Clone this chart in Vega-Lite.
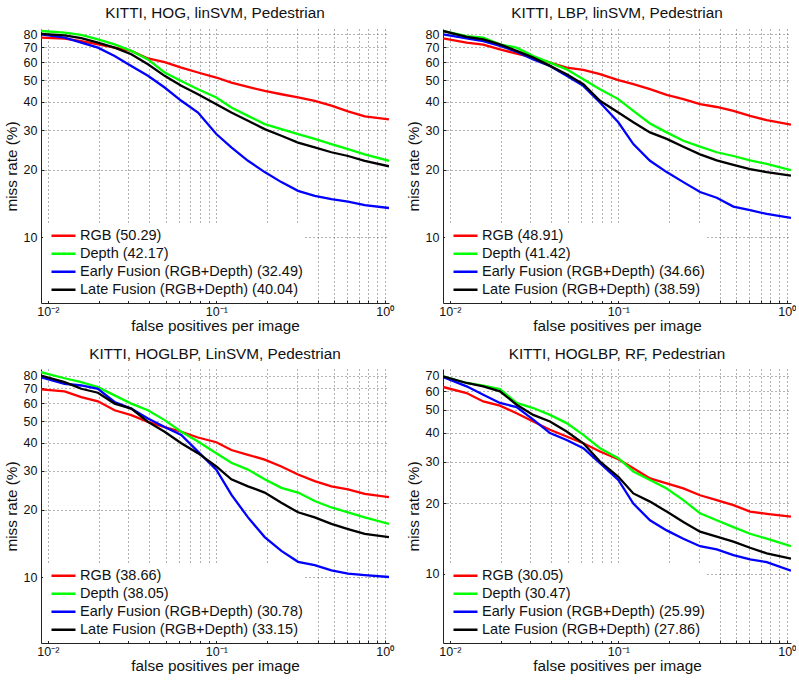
{
"$schema": "https://vega.github.io/schema/vega-lite/v6.json",
"background": "white",
"padding": {"left": 4, "top": 6, "right": 0, "bottom": 0},
"config": {
  "font": "Liberation Sans",
  "view": {"stroke": null},
  "axis": {"domainColor": "#222", "domainWidth": 1, "gridColor": "#555", "gridDash": [1, 3], "gridWidth": 1, "gridOpacity": 0.9, "labelColor": "#111", "labelFontSize": 12.5, "titleFontSize": 15.3, "titleFontWeight": "normal", "titleColor": "#111", "tickColor": "#222", "tickSize": -3, "labelFlush": false, "labelOverlap": false},
  "axisX": {"labelPadding": 5, "titlePadding": 1},
  "axisY": {"labelPadding": 7, "titlePadding": 4},
  "title": {"fontSize": 15.3, "fontWeight": "normal", "color": "#111", "offset": 7},
  "legend": {"orient": "bottom-left", "offset": 2, "title": null, "symbolType": "stroke", "symbolSize": 576, "symbolStrokeWidth": 2.6, "symbolOffset": 5, "labelFontSize": 14.5, "labelColor": "#111", "labelLimit": 0, "clipHeight": 17.6, "fillColor": "white", "padding": 2, "rowPadding": 0, "labelOffset": 3}
},
"datasets": {
"p1": [
{"series":"RGB","fppi":0.0091,"missrate":77.3},{"series":"RGB","fppi":0.01256,"missrate":76.5},{"series":"RGB","fppi":0.01578,"missrate":74.7},{"series":"RGB","fppi":0.01982,"missrate":72.2},{"series":"RGB","fppi":0.02489,"missrate":69.8},{"series":"RGB","fppi":0.03126,"missrate":67.5},{"series":"RGB","fppi":0.03927,"missrate":62.5},{"series":"RGB","fppi":0.04933,"missrate":60.2},{"series":"RGB","fppi":0.06196,"missrate":56.9},{"series":"RGB","fppi":0.07782,"missrate":54.1},{"series":"RGB","fppi":0.1,"missrate":51.4},{"series":"RGB","fppi":0.1228,"missrate":48.8},{"series":"RGB","fppi":0.1542,"missrate":46.7},{"series":"RGB","fppi":0.1937,"missrate":44.8},{"series":"RGB","fppi":0.2433,"missrate":43.3},{"series":"RGB","fppi":0.3056,"missrate":41.9},{"series":"RGB","fppi":0.3839,"missrate":40.5},{"series":"RGB","fppi":0.4822,"missrate":38.5},{"series":"RGB","fppi":0.6056,"missrate":36.3},{"series":"RGB","fppi":0.7607,"missrate":34.5},{"series":"RGB","fppi":1.06,"missrate":33.5},
{"series":"Depth","fppi":0.0091,"missrate":82.8},{"series":"Depth","fppi":0.01256,"missrate":81.4},{"series":"Depth","fppi":0.01578,"missrate":79.5},{"series":"Depth","fppi":0.01982,"missrate":76.0},{"series":"Depth","fppi":0.02489,"missrate":72.2},{"series":"Depth","fppi":0.03126,"missrate":67.5},{"series":"Depth","fppi":0.03927,"missrate":61.9},{"series":"Depth","fppi":0.04933,"missrate":54.1},{"series":"Depth","fppi":0.06196,"missrate":49.6},{"series":"Depth","fppi":0.07782,"missrate":45.6},{"series":"Depth","fppi":0.1,"missrate":41.9},{"series":"Depth","fppi":0.1228,"missrate":37.8},{"series":"Depth","fppi":0.1542,"missrate":34.7},{"series":"Depth","fppi":0.1937,"missrate":31.9},{"series":"Depth","fppi":0.2433,"missrate":30.3},{"series":"Depth","fppi":0.3056,"missrate":28.8},{"series":"Depth","fppi":0.3839,"missrate":27.4},{"series":"Depth","fppi":0.4822,"missrate":26.0},{"series":"Depth","fppi":0.6056,"missrate":24.7},{"series":"Depth","fppi":0.7607,"missrate":23.4},{"series":"Depth","fppi":1.06,"missrate":21.9},
{"series":"Early","fppi":0.0091,"missrate":80.0},{"series":"Early","fppi":0.01256,"missrate":77.3},{"series":"Early","fppi":0.01578,"missrate":73.5},{"series":"Early","fppi":0.01982,"missrate":69.8},{"series":"Early","fppi":0.02489,"missrate":64.1},{"series":"Early","fppi":0.03126,"missrate":57.9},{"series":"Early","fppi":0.03927,"missrate":52.3},{"series":"Early","fppi":0.04933,"missrate":46.4},{"series":"Early","fppi":0.06196,"missrate":40.5},{"series":"Early","fppi":0.07782,"missrate":35.9},{"series":"Early","fppi":0.1,"missrate":28.8},{"series":"Early","fppi":0.1228,"missrate":25.1},{"series":"Early","fppi":0.1542,"missrate":21.9},{"series":"Early","fppi":0.1937,"missrate":19.5},{"series":"Early","fppi":0.2433,"missrate":17.6},{"series":"Early","fppi":0.3056,"missrate":16.1},{"series":"Early","fppi":0.3839,"missrate":15.3},{"series":"Early","fppi":0.4822,"missrate":14.8},{"series":"Early","fppi":0.6056,"missrate":14.4},{"series":"Early","fppi":0.7607,"missrate":13.9},{"series":"Early","fppi":1.06,"missrate":13.5},
{"series":"Late","fppi":0.0091,"missrate":80.4},{"series":"Late","fppi":0.01256,"missrate":79.2},{"series":"Late","fppi":0.01578,"missrate":77.0},{"series":"Late","fppi":0.01982,"missrate":73.5},{"series":"Late","fppi":0.02489,"missrate":69.8},{"series":"Late","fppi":0.03126,"missrate":65.2},{"series":"Late","fppi":0.03927,"missrate":58.9},{"series":"Late","fppi":0.04933,"missrate":52.3},{"series":"Late","fppi":0.06196,"missrate":47.2},{"series":"Late","fppi":0.07782,"missrate":43.3},{"series":"Late","fppi":0.1,"missrate":39.1},{"series":"Late","fppi":0.1228,"missrate":35.9},{"series":"Late","fppi":0.1542,"missrate":33.0},{"series":"Late","fppi":0.1937,"missrate":30.3},{"series":"Late","fppi":0.2433,"missrate":28.3},{"series":"Late","fppi":0.3056,"missrate":26.4},{"series":"Late","fppi":0.3839,"missrate":25.1},{"series":"Late","fppi":0.4822,"missrate":23.9},{"series":"Late","fppi":0.6056,"missrate":23.0},{"series":"Late","fppi":0.7607,"missrate":21.9},{"series":"Late","fppi":1.06,"missrate":20.7}
],
"p2": [
{"series":"RGB","fppi":0.0091,"missrate":76.8},{"series":"RGB","fppi":0.01256,"missrate":73.5},{"series":"RGB","fppi":0.01578,"missrate":72.0},{"series":"RGB","fppi":0.01982,"missrate":68.6},{"series":"RGB","fppi":0.02489,"missrate":65.6},{"series":"RGB","fppi":0.03126,"missrate":63.0},{"series":"RGB","fppi":0.03927,"missrate":59.9},{"series":"RGB","fppi":0.04933,"missrate":56.9},{"series":"RGB","fppi":0.06196,"missrate":55.6},{"series":"RGB","fppi":0.07782,"missrate":53.2},{"series":"RGB","fppi":0.1,"missrate":50.0},{"series":"RGB","fppi":0.1228,"missrate":48.0},{"series":"RGB","fppi":0.1542,"missrate":45.6},{"series":"RGB","fppi":0.1937,"missrate":43.0},{"series":"RGB","fppi":0.2433,"missrate":41.2},{"series":"RGB","fppi":0.3056,"missrate":39.1},{"series":"RGB","fppi":0.3839,"missrate":38.0},{"series":"RGB","fppi":0.4822,"missrate":36.5},{"series":"RGB","fppi":0.6056,"missrate":34.7},{"series":"RGB","fppi":0.7607,"missrate":33.2},{"series":"RGB","fppi":1.06,"missrate":31.7},
{"series":"Depth","fppi":0.0091,"missrate":82.8},{"series":"Depth","fppi":0.01256,"missrate":78.6},{"series":"Depth","fppi":0.01578,"missrate":77.3},{"series":"Depth","fppi":0.01982,"missrate":72.2},{"series":"Depth","fppi":0.02489,"missrate":69.8},{"series":"Depth","fppi":0.03126,"missrate":64.1},{"series":"Depth","fppi":0.03927,"missrate":59.9},{"series":"Depth","fppi":0.04933,"missrate":55.9},{"series":"Depth","fppi":0.06196,"missrate":50.5},{"series":"Depth","fppi":0.07782,"missrate":45.6},{"series":"Depth","fppi":0.1,"missrate":41.2},{"series":"Depth","fppi":0.1228,"missrate":36.5},{"series":"Depth","fppi":0.1542,"missrate":32.1},{"series":"Depth","fppi":0.1937,"missrate":29.3},{"series":"Depth","fppi":0.2433,"missrate":26.9},{"series":"Depth","fppi":0.3056,"missrate":25.3},{"series":"Depth","fppi":0.3839,"missrate":23.9},{"series":"Depth","fppi":0.4822,"missrate":23.0},{"series":"Depth","fppi":0.6056,"missrate":22.0},{"series":"Depth","fppi":0.7607,"missrate":21.2},{"series":"Depth","fppi":1.06,"missrate":19.9},
{"series":"Early","fppi":0.0091,"missrate":80.0},{"series":"Early","fppi":0.01256,"missrate":76.8},{"series":"Early","fppi":0.01578,"missrate":74.7},{"series":"Early","fppi":0.01982,"missrate":71.0},{"series":"Early","fppi":0.02489,"missrate":67.0},{"series":"Early","fppi":0.03126,"missrate":61.9},{"series":"Early","fppi":0.03927,"missrate":57.9},{"series":"Early","fppi":0.04933,"missrate":52.3},{"series":"Early","fppi":0.06196,"missrate":47.2},{"series":"Early","fppi":0.07782,"missrate":39.8},{"series":"Early","fppi":0.1,"missrate":32.5},{"series":"Early","fppi":0.1228,"missrate":26.0},{"series":"Early","fppi":0.1542,"missrate":21.9},{"series":"Early","fppi":0.1937,"missrate":19.5},{"series":"Early","fppi":0.2433,"missrate":17.6},{"series":"Early","fppi":0.3056,"missrate":15.9},{"series":"Early","fppi":0.3839,"missrate":15.0},{"series":"Early","fppi":0.4822,"missrate":13.7},{"series":"Early","fppi":0.6056,"missrate":13.2},{"series":"Early","fppi":0.7607,"missrate":12.7},{"series":"Early","fppi":1.06,"missrate":12.2},
{"series":"Late","fppi":0.0091,"missrate":82.8},{"series":"Late","fppi":0.01256,"missrate":78.0},{"series":"Late","fppi":0.01578,"missrate":76.0},{"series":"Late","fppi":0.01982,"missrate":72.2},{"series":"Late","fppi":0.02489,"missrate":67.5},{"series":"Late","fppi":0.03126,"missrate":63.0},{"series":"Late","fppi":0.03927,"missrate":57.9},{"series":"Late","fppi":0.04933,"missrate":53.2},{"series":"Late","fppi":0.06196,"missrate":48.0},{"series":"Late","fppi":0.07782,"missrate":40.5},{"series":"Late","fppi":0.1,"missrate":35.9},{"series":"Late","fppi":0.1228,"missrate":32.5},{"series":"Late","fppi":0.1542,"missrate":29.3},{"series":"Late","fppi":0.1937,"missrate":27.4},{"series":"Late","fppi":0.2433,"missrate":25.3},{"series":"Late","fppi":0.3056,"missrate":23.4},{"series":"Late","fppi":0.3839,"missrate":22.0},{"series":"Late","fppi":0.4822,"missrate":21.0},{"series":"Late","fppi":0.6056,"missrate":20.1},{"series":"Late","fppi":0.7607,"missrate":19.5},{"series":"Late","fppi":1.06,"missrate":18.8}
],
"p3": [
{"series":"RGB","fppi":0.0091,"missrate":69.3},{"series":"RGB","fppi":0.01256,"missrate":68.0},{"series":"RGB","fppi":0.01578,"missrate":64.0},{"series":"RGB","fppi":0.01982,"missrate":61.3},{"series":"RGB","fppi":0.02489,"missrate":55.9},{"series":"RGB","fppi":0.03126,"missrate":53.2},{"series":"RGB","fppi":0.03927,"missrate":49.6},{"series":"RGB","fppi":0.04933,"missrate":47.0},{"series":"RGB","fppi":0.06196,"missrate":44.8},{"series":"RGB","fppi":0.07782,"missrate":42.2},{"series":"RGB","fppi":0.1,"missrate":40.2},{"series":"RGB","fppi":0.1228,"missrate":37.1},{"series":"RGB","fppi":0.1542,"missrate":35.3},{"series":"RGB","fppi":0.1937,"missrate":33.6},{"series":"RGB","fppi":0.2433,"missrate":31.3},{"series":"RGB","fppi":0.3056,"missrate":28.8},{"series":"RGB","fppi":0.3839,"missrate":26.9},{"series":"RGB","fppi":0.4822,"missrate":25.5},{"series":"RGB","fppi":0.6056,"missrate":24.7},{"series":"RGB","fppi":0.7607,"missrate":23.6},{"series":"RGB","fppi":1.06,"missrate":22.8},
{"series":"Depth","fppi":0.0091,"missrate":82.8},{"series":"Depth","fppi":0.01256,"missrate":77.8},{"series":"Depth","fppi":0.01578,"missrate":74.7},{"series":"Depth","fppi":0.01982,"missrate":71.0},{"series":"Depth","fppi":0.02489,"missrate":65.2},{"series":"Depth","fppi":0.03126,"missrate":59.9},{"series":"Depth","fppi":0.03927,"missrate":55.9},{"series":"Depth","fppi":0.04933,"missrate":50.5},{"series":"Depth","fppi":0.06196,"missrate":44.8},{"series":"Depth","fppi":0.07782,"missrate":40.5},{"series":"Depth","fppi":0.1,"missrate":35.9},{"series":"Depth","fppi":0.1228,"missrate":32.5},{"series":"Depth","fppi":0.1542,"missrate":30.3},{"series":"Depth","fppi":0.1937,"missrate":27.4},{"series":"Depth","fppi":0.2433,"missrate":25.1},{"series":"Depth","fppi":0.3056,"missrate":23.9},{"series":"Depth","fppi":0.3839,"missrate":21.9},{"series":"Depth","fppi":0.4822,"missrate":20.5},{"series":"Depth","fppi":0.6056,"missrate":19.5},{"series":"Depth","fppi":0.7607,"missrate":18.5},{"series":"Depth","fppi":1.06,"missrate":17.3},
{"series":"Early","fppi":0.0091,"missrate":78.6},{"series":"Early","fppi":0.01256,"missrate":73.5},{"series":"Early","fppi":0.01578,"missrate":72.2},{"series":"Early","fppi":0.01982,"missrate":69.8},{"series":"Early","fppi":0.02489,"missrate":60.9},{"series":"Early","fppi":0.03126,"missrate":56.9},{"series":"Early","fppi":0.03927,"missrate":51.4},{"series":"Early","fppi":0.04933,"missrate":47.0},{"series":"Early","fppi":0.06196,"missrate":43.3},{"series":"Early","fppi":0.07782,"missrate":36.5},{"series":"Early","fppi":0.1,"missrate":30.3},{"series":"Early","fppi":0.1228,"missrate":23.4},{"series":"Early","fppi":0.1542,"missrate":18.5},{"series":"Early","fppi":0.1937,"missrate":15.1},{"series":"Early","fppi":0.2433,"missrate":13.1},{"series":"Early","fppi":0.3056,"missrate":11.7},{"series":"Early","fppi":0.3839,"missrate":11.3},{"series":"Early","fppi":0.4822,"missrate":10.7},{"series":"Early","fppi":0.6056,"missrate":10.35},{"series":"Early","fppi":0.7607,"missrate":10.2},{"series":"Early","fppi":1.06,"missrate":10.0},
{"series":"Late","fppi":0.0091,"missrate":80.0},{"series":"Late","fppi":0.01256,"missrate":74.7},{"series":"Late","fppi":0.01578,"missrate":69.8},{"series":"Late","fppi":0.01982,"missrate":67.0},{"series":"Late","fppi":0.02489,"missrate":59.9},{"series":"Late","fppi":0.03126,"missrate":56.9},{"series":"Late","fppi":0.03927,"missrate":49.6},{"series":"Late","fppi":0.04933,"missrate":44.8},{"series":"Late","fppi":0.06196,"missrate":39.8},{"series":"Late","fppi":0.07782,"missrate":35.9},{"series":"Late","fppi":0.1,"missrate":31.3},{"series":"Late","fppi":0.1228,"missrate":27.4},{"series":"Late","fppi":0.1542,"missrate":25.5},{"series":"Late","fppi":0.1937,"missrate":23.9},{"series":"Late","fppi":0.2433,"missrate":21.5},{"series":"Late","fppi":0.3056,"missrate":19.5},{"series":"Late","fppi":0.3839,"missrate":18.5},{"series":"Late","fppi":0.4822,"missrate":17.3},{"series":"Late","fppi":0.6056,"missrate":16.4},{"series":"Late","fppi":0.7607,"missrate":15.6},{"series":"Late","fppi":1.06,"missrate":15.1}
],
"p4": [
{"series":"RGB","fppi":0.0091,"missrate":62.6},{"series":"RGB","fppi":0.01256,"missrate":59.0},{"series":"RGB","fppi":0.01578,"missrate":54.3},{"series":"RGB","fppi":0.01982,"missrate":52.1},{"series":"RGB","fppi":0.02489,"missrate":48.4},{"series":"RGB","fppi":0.03126,"missrate":44.6},{"series":"RGB","fppi":0.03927,"missrate":41.1},{"series":"RGB","fppi":0.04933,"missrate":38.5},{"series":"RGB","fppi":0.06196,"missrate":36.0},{"series":"RGB","fppi":0.07782,"missrate":33.2},{"series":"RGB","fppi":0.1,"missrate":30.8},{"series":"RGB","fppi":0.1228,"missrate":28.2},{"series":"RGB","fppi":0.1542,"missrate":25.5},{"series":"RGB","fppi":0.1937,"missrate":24.3},{"series":"RGB","fppi":0.2433,"missrate":23.1},{"series":"RGB","fppi":0.3056,"missrate":21.6},{"series":"RGB","fppi":0.3839,"missrate":20.6},{"series":"RGB","fppi":0.4822,"missrate":19.6},{"series":"RGB","fppi":0.6056,"missrate":18.4},{"series":"RGB","fppi":0.7607,"missrate":18.0},{"series":"RGB","fppi":1.06,"missrate":17.5},
{"series":"Depth","fppi":0.0091,"missrate":69.5},{"series":"Depth","fppi":0.01256,"missrate":65.1},{"series":"Depth","fppi":0.01578,"missrate":63.4},{"series":"Depth","fppi":0.01982,"missrate":61.4},{"series":"Depth","fppi":0.02489,"missrate":53.5},{"series":"Depth","fppi":0.03126,"missrate":50.9},{"series":"Depth","fppi":0.03927,"missrate":47.6},{"series":"Depth","fppi":0.04933,"missrate":43.9},{"series":"Depth","fppi":0.06196,"missrate":39.1},{"series":"Depth","fppi":0.07782,"missrate":34.3},{"series":"Depth","fppi":0.1,"missrate":31.1},{"series":"Depth","fppi":0.1228,"missrate":27.3},{"series":"Depth","fppi":0.1542,"missrate":25.1},{"series":"Depth","fppi":0.1937,"missrate":23.1},{"series":"Depth","fppi":0.2433,"missrate":20.6},{"series":"Depth","fppi":0.3056,"missrate":18.1},{"series":"Depth","fppi":0.3839,"missrate":16.9},{"series":"Depth","fppi":0.4822,"missrate":15.8},{"series":"Depth","fppi":0.6056,"missrate":14.8},{"series":"Depth","fppi":0.7607,"missrate":14.1},{"series":"Depth","fppi":1.06,"missrate":13.1},
{"series":"Early","fppi":0.0091,"missrate":69.1},{"series":"Early","fppi":0.01256,"missrate":63.0},{"series":"Early","fppi":0.01578,"missrate":58.0},{"series":"Early","fppi":0.01982,"missrate":53.5},{"series":"Early","fppi":0.02489,"missrate":51.4},{"series":"Early","fppi":0.03126,"missrate":45.4},{"series":"Early","fppi":0.03927,"missrate":39.8},{"series":"Early","fppi":0.04933,"missrate":37.2},{"series":"Early","fppi":0.06196,"missrate":34.3},{"series":"Early","fppi":0.07782,"missrate":29.6},{"series":"Early","fppi":0.1,"missrate":25.1},{"series":"Early","fppi":0.1228,"missrate":19.9},{"series":"Early","fppi":0.1542,"missrate":16.9},{"series":"Early","fppi":0.1937,"missrate":15.3},{"series":"Early","fppi":0.2433,"missrate":14.1},{"series":"Early","fppi":0.3056,"missrate":13.1},{"series":"Early","fppi":0.3839,"missrate":12.7},{"series":"Early","fppi":0.4822,"missrate":12.0},{"series":"Early","fppi":0.6056,"missrate":11.5},{"series":"Early","fppi":0.7607,"missrate":11.2},{"series":"Early","fppi":1.06,"missrate":10.3},
{"series":"Late","fppi":0.0091,"missrate":69.5},{"series":"Late","fppi":0.01256,"missrate":65.1},{"series":"Late","fppi":0.01578,"missrate":63.0},{"series":"Late","fppi":0.01982,"missrate":60.0},{"series":"Late","fppi":0.02489,"missrate":52.6},{"series":"Late","fppi":0.03126,"missrate":47.6},{"series":"Late","fppi":0.03927,"missrate":44.6},{"series":"Late","fppi":0.04933,"missrate":40.4},{"series":"Late","fppi":0.06196,"missrate":36.0},{"series":"Late","fppi":0.07782,"missrate":30.1},{"series":"Late","fppi":0.1,"missrate":25.9},{"series":"Late","fppi":0.1228,"missrate":22.0},{"series":"Late","fppi":0.1542,"missrate":20.3},{"series":"Late","fppi":0.1937,"missrate":18.4},{"series":"Late","fppi":0.2433,"missrate":16.6},{"series":"Late","fppi":0.3056,"missrate":15.1},{"series":"Late","fppi":0.3839,"missrate":14.4},{"series":"Late","fppi":0.4822,"missrate":13.7},{"series":"Late","fppi":0.6056,"missrate":12.9},{"series":"Late","fppi":0.7607,"missrate":12.2},{"series":"Late","fppi":1.06,"missrate":11.6}
]
},
"spacing": 12,
"resolve": {"scale": {"color": "independent"}, "legend": {"color": "independent"}},
"vconcat": [
{"hconcat": [
{"title": "KITTI, HOG, linSVM, Pedestrian", "width": 348, "height": 274, "data": {"name": "p1"},
 "mark": {"type": "line", "strokeWidth": 2.3, "clip": true},
 "encoding": {
  "x": {"field": "fppi", "type": "quantitative", "scale": {"type": "log", "domain": [0.0091, 1.06], "nice": false}, "axis": {"title": "false positives per image", "values": [0.01,0.02,0.03,0.04,0.05,0.06,0.07,0.08,0.09,0.1,0.2,0.3,0.4,0.5,0.6,0.7,0.8,0.9,1], "labelExpr": "datum.value == 0.01 ? '10⁻²' : datum.value == 0.1 ? '10⁻¹' : datum.value == 1 ? '10⁰' : ''"}},
  "y": {"field": "missrate", "type": "quantitative", "scale": {"type": "log", "domain": [5.1, 84.5], "nice": false}, "axis": {"title": "miss rate (%)", "values": [10,20,30,40,50,60,70,80], "format": "d"}},
  "color": {"field": "series", "type": "nominal", "scale": {"domain": ["RGB","Depth","Early","Late"], "range": ["#ff0000","#00ff00","#0000ff","#000000"]}, "legend": {"labelExpr": "datum.label == 'RGB' ? 'RGB (50.29)' : datum.label == 'Depth' ? 'Depth (42.17)' : datum.label == 'Early' ? 'Early Fusion (RGB+Depth) (32.49)' : 'Late Fusion (RGB+Depth) (40.04)'"}}
 }},
{"title": "KITTI, LBP, linSVM, Pedestrian", "width": 348, "height": 274, "data": {"name": "p2"},
 "mark": {"type": "line", "strokeWidth": 2.3, "clip": true},
 "encoding": {
  "x": {"field": "fppi", "type": "quantitative", "scale": {"type": "log", "domain": [0.0091, 1.06], "nice": false}, "axis": {"title": "false positives per image", "values": [0.01,0.02,0.03,0.04,0.05,0.06,0.07,0.08,0.09,0.1,0.2,0.3,0.4,0.5,0.6,0.7,0.8,0.9,1], "labelExpr": "datum.value == 0.01 ? '10⁻²' : datum.value == 0.1 ? '10⁻¹' : datum.value == 1 ? '10⁰' : ''"}},
  "y": {"field": "missrate", "type": "quantitative", "scale": {"type": "log", "domain": [5.1, 84.5], "nice": false}, "axis": {"title": "miss rate (%)", "values": [10,20,30,40,50,60,70,80], "format": "d"}},
  "color": {"field": "series", "type": "nominal", "scale": {"domain": ["RGB","Depth","Early","Late"], "range": ["#ff0000","#00ff00","#0000ff","#000000"]}, "legend": {"labelExpr": "datum.label == 'RGB' ? 'RGB (48.91)' : datum.label == 'Depth' ? 'Depth (41.42)' : datum.label == 'Early' ? 'Early Fusion (RGB+Depth) (34.66)' : 'Late Fusion (RGB+Depth) (38.59)'"}}
 }}
], "spacing": 12, "resolve": {"scale": {"color": "independent"}, "legend": {"color": "independent"}}},
{"hconcat": [
{"title": "KITTI, HOGLBP, LinSVM, Pedestrian", "width": 348, "height": 274, "data": {"name": "p3"},
 "mark": {"type": "line", "strokeWidth": 2.3, "clip": true},
 "encoding": {
  "x": {"field": "fppi", "type": "quantitative", "scale": {"type": "log", "domain": [0.0091, 1.06], "nice": false}, "axis": {"title": "false positives per image", "values": [0.01,0.02,0.03,0.04,0.05,0.06,0.07,0.08,0.09,0.1,0.2,0.3,0.4,0.5,0.6,0.7,0.8,0.9,1], "labelExpr": "datum.value == 0.01 ? '10⁻²' : datum.value == 0.1 ? '10⁻¹' : datum.value == 1 ? '10⁰' : ''"}},
  "y": {"field": "missrate", "type": "quantitative", "scale": {"type": "log", "domain": [5.06, 85.6], "nice": false}, "axis": {"title": "miss rate (%)", "values": [10,20,30,40,50,60,70,80], "format": "d"}},
  "color": {"field": "series", "type": "nominal", "scale": {"domain": ["RGB","Depth","Early","Late"], "range": ["#ff0000","#00ff00","#0000ff","#000000"]}, "legend": {"labelExpr": "datum.label == 'RGB' ? 'RGB (38.66)' : datum.label == 'Depth' ? 'Depth (38.05)' : datum.label == 'Early' ? 'Early Fusion (RGB+Depth) (30.78)' : 'Late Fusion (RGB+Depth) (33.15)'"}}
 }},
{"title": "KITTI, HOGLBP, RF, Pedestrian", "width": 348, "height": 274, "data": {"name": "p4"},
 "mark": {"type": "line", "strokeWidth": 2.3, "clip": true},
 "encoding": {
  "x": {"field": "fppi", "type": "quantitative", "scale": {"type": "log", "domain": [0.0091, 1.06], "nice": false}, "axis": {"title": "false positives per image", "values": [0.01,0.02,0.03,0.04,0.05,0.06,0.07,0.08,0.09,0.1,0.2,0.3,0.4,0.5,0.6,0.7,0.8,0.9,1], "labelExpr": "datum.value == 0.01 ? '10⁻²' : datum.value == 0.1 ? '10⁻¹' : datum.value == 1 ? '10⁰' : ''"}},
  "y": {"field": "missrate", "type": "quantitative", "scale": {"type": "log", "domain": [5.06, 74.7], "nice": false}, "axis": {"title": "miss rate (%)", "values": [10,20,30,40,50,60,70], "format": "d"}},
  "color": {"field": "series", "type": "nominal", "scale": {"domain": ["RGB","Depth","Early","Late"], "range": ["#ff0000","#00ff00","#0000ff","#000000"]}, "legend": {"labelExpr": "datum.label == 'RGB' ? 'RGB (30.05)' : datum.label == 'Depth' ? 'Depth (30.47)' : datum.label == 'Early' ? 'Early Fusion (RGB+Depth) (25.99)' : 'Late Fusion (RGB+Depth) (27.86)'"}}
 }}
], "spacing": 12, "resolve": {"scale": {"color": "independent"}, "legend": {"color": "independent"}}}
]
}
